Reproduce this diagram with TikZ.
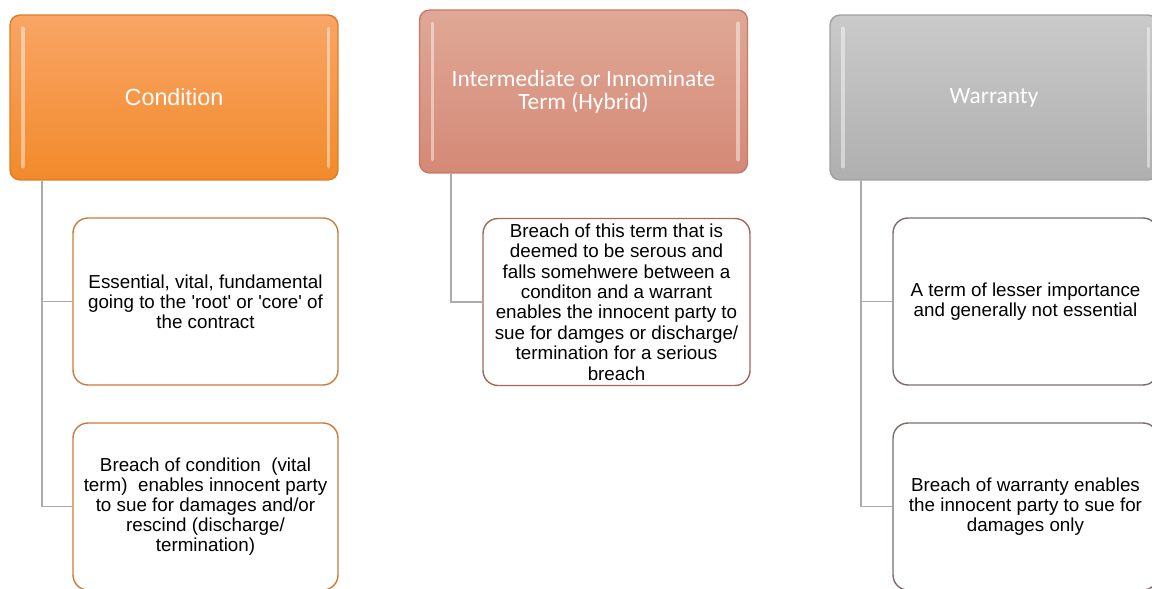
\documentclass[tikz,border=0pt]{standalone}
\usepackage{fontspec}
\setmainfont{Liberation Sans}
\newfontfamily\calibri{Carlito}
\usepackage{xcolor}
\usepackage{tikz}

\definecolor{condtop}{HTML}{F9A566}
\definecolor{condbot}{HTML}{F28A2A}
\definecolor{condedge}{HTML}{E27C22}
\definecolor{condline}{HTML}{C97B3C}
\definecolor{intertop}{HTML}{E0A896}
\definecolor{interbot}{HTML}{D48976}
\definecolor{interedge}{HTML}{C47A68}
\definecolor{interline}{HTML}{A0685A}
\definecolor{warrtop}{HTML}{CACACA}
\definecolor{warrbot}{HTML}{AFAFAF}
\definecolor{warredge}{HTML}{A0A0A0}
\definecolor{warrline}{HTML}{806B6B}

\begin{document}
\begin{tikzpicture}[x=0.02cm, y=-0.02cm,
    head/.style={rounded corners=5.7pt, line width=0.8pt, text=white, align=center,
        inner sep=0pt, minimum width=6.56cm, minimum height=3.3cm,
        font=\fontsize{13.3}{13.3}\selectfont},
    leaf/.style={rounded corners=8.5pt, draw, line width=0.8pt, fill=white, align=center,
        inner sep=0pt, minimum width=5.3cm, minimum height=3.34cm,
        font=\fontsize{10.7}{11.3}\selectfont},
    conn/.style={draw=black!33, line width=1.1pt},
    gloss/.style={white, opacity=0.45, line width=2pt, line cap=round}]
    \useasboundingbox (0,0) rectangle (1152,588);

    \node[head, top color=condtop, bottom color=condbot, draw=condedge] (cond) at (174,97.5) {Condition};
    \node[head, top color=intertop, bottom color=interbot, draw=interedge, minimum height=3.26cm] (inter) at (583.5,91.5)
        {\calibri Intermediate or Innominate\\\calibri Term (Hybrid)};
    \node[head, top color=warrtop, bottom color=warrbot, draw=warredge] (warr) at (994,97.5) {\calibri Warranty};

    \foreach \n in {cond,inter,warr} {
        \draw[gloss] ([xshift=0.27cm,yshift=-0.28cm]\n.north west) -- ([xshift=0.27cm,yshift=0.28cm]\n.south west);
        \draw[gloss] ([xshift=-0.2cm,yshift=-0.28cm]\n.north east) -- ([xshift=-0.2cm,yshift=0.28cm]\n.south east);
    }

    \node[leaf, draw=condline] (cond1) at (205.5,301.5)
        {Essential, vital, fundamental\\going to the \textquotesingle root\textquotesingle{} or \textquotesingle core\textquotesingle{} of\\the contract};
    \node[leaf, draw=condline] (cond2) at (205.5,506.5)
        {Breach of condition\ \ (vital\\term)\ \ enables innocent party\\to sue for damages and/or\\rescind (discharge/\\termination)};
    \node[leaf, draw=interline, minimum width=5.34cm, font=\fontsize{10.7}{11.6}\selectfont] (inter1) at (616.5,302)
        {Breach of this term that is\\deemed to be serous and\\falls somehwere between a\\conditon and a warrant\\enables the innocent party to\\sue for damges or discharge/\\termination for a serious\\breach};
    \node[leaf, draw=warrline] (warr1) at (1025.5,301.5)
        {A term of lesser importance\\and generally not essential};
    \node[leaf, draw=warrline] (warr2) at (1025.5,506.5)
        {Breach of warranty enables\\the innocent party to sue for\\damages only};

    \coordinate (condv) at ([xshift=0.66cm]cond.south west);
    \coordinate (interv) at ([xshift=0.64cm]inter.south west);
    \coordinate (warrv) at ([xshift=0.64cm]warr.south west);
    \draw[conn] (condv) |- (cond1.west);
    \draw[conn] (condv) |- (cond2.west);
    \draw[conn] (interv) |- (inter1.west);
    \draw[conn] (warrv) |- (warr1.west);
    \draw[conn] (warrv) |- (warr2.west);
\end{tikzpicture}
\end{document}
